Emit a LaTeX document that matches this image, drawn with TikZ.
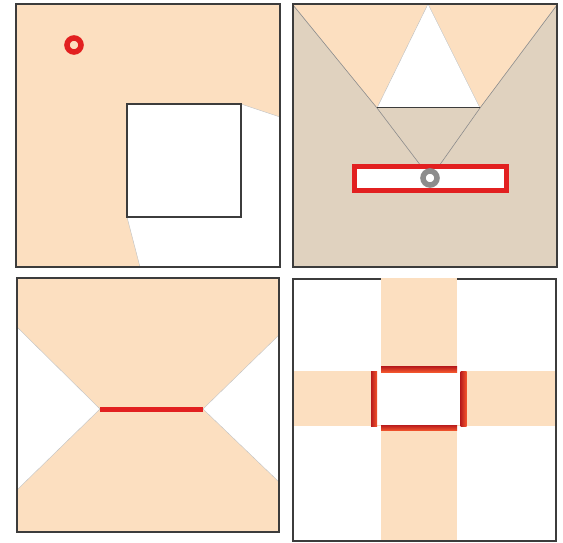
\documentclass[tikz,border=0pt]{standalone}
\begin{document}
\begin{tikzpicture}[x=1pt,y=-1pt]
\definecolor{peach}{RGB}{252,223,192}
\definecolor{tanbg}{RGB}{224,210,191}
\definecolor{framec}{RGB}{60,60,60}
\definecolor{redc}{RGB}{226,32,32}
\definecolor{darkred}{RGB}{185,28,28}
\definecolor{orangered}{RGB}{242,85,45}
\tikzset{
  frame/.style={draw=framec,line width=1.2pt},
  guide/.style={draw=black!45,line width=0.6pt},
  edge/.style={draw=black!25,line width=0.4pt},
  hbar/.style={top color=darkred,bottom color=orangered},
  vbar/.style={left color=darkred,right color=orangered}
}
\useasboundingbox[fill=white] (0,0) rectangle (563,543);

% ---------- Panel 1 ----------
\fill[peach] (16,4) rectangle (280,267);
\fill[white] (241,104) -- (280,117) -- (280,267) -- (140,267) -- (127,217) -- cycle;
\draw[edge] (241,104) -- (280,117);
\draw[edge] (127,217) -- (140,267);
\draw[line width=1.3pt, draw=framec, fill=white] (127,104) rectangle (241,217);
\draw[redc, line width=5.5pt] (74,45) circle (7pt);
\draw[frame] (16,4) rectangle (280,267);

% ---------- Panel 2 ----------
\fill[tanbg] (293,4) rectangle (557,267);
\fill[peach] (293,4) -- (428,4) -- (377,108) -- cycle;
\fill[peach] (428,4) -- (557,4) -- (480,108) -- cycle;
\fill[white] (428,4) -- (377,108) -- (480,108) -- cycle;
\draw[edge] (377,108) -- (428,4) -- (480,108);
\draw[guide] (293,5) -- (377,108) -- (421,166);
\draw[guide] (557,5) -- (480,108) -- (439,166);
\draw[line width=1pt, framec] (377,108) -- (480,108);
\draw[redc, line width=5pt, fill=white] (354.5,166.5) rectangle (506.5,190.5);
\draw[black!45, line width=5.5pt] (430,178) circle (7pt);
\draw[frame] (293,4) rectangle (557,267);

% ---------- Panel 3 ----------
\fill[peach] (17,278) rectangle (279,532);
\fill[white] (17,327) -- (100,409) -- (17,490) -- cycle;
\fill[white] (279,335) -- (203,409) -- (279,482) -- cycle;
\draw[edge] (17,327) -- (100,409) -- (17,490);
\draw[edge] (279,335) -- (203,409) -- (279,482);
\draw[redc, line width=5pt] (100,409) -- (203,409);
\draw[frame] (17,278) rectangle (279,532);

% ---------- Panel 4 ----------
\draw[frame] (293,279) rectangle (556,541);
\fill[peach] (381,277.5) rectangle (457,540.4);
\fill[peach] (293.6,371) rectangle (555.4,426);
\fill[white] (376,371) rectangle (461,425);
\shade[hbar] (381,366.5) rectangle (457,372);
\shade[hbar] (381,425) rectangle (457,430.5);
\shade[vbar] (371,371) rectangle (377,426);
\shade[vbar] (460.5,371) rectangle (466.5,426);
\end{tikzpicture}
\end{document}
